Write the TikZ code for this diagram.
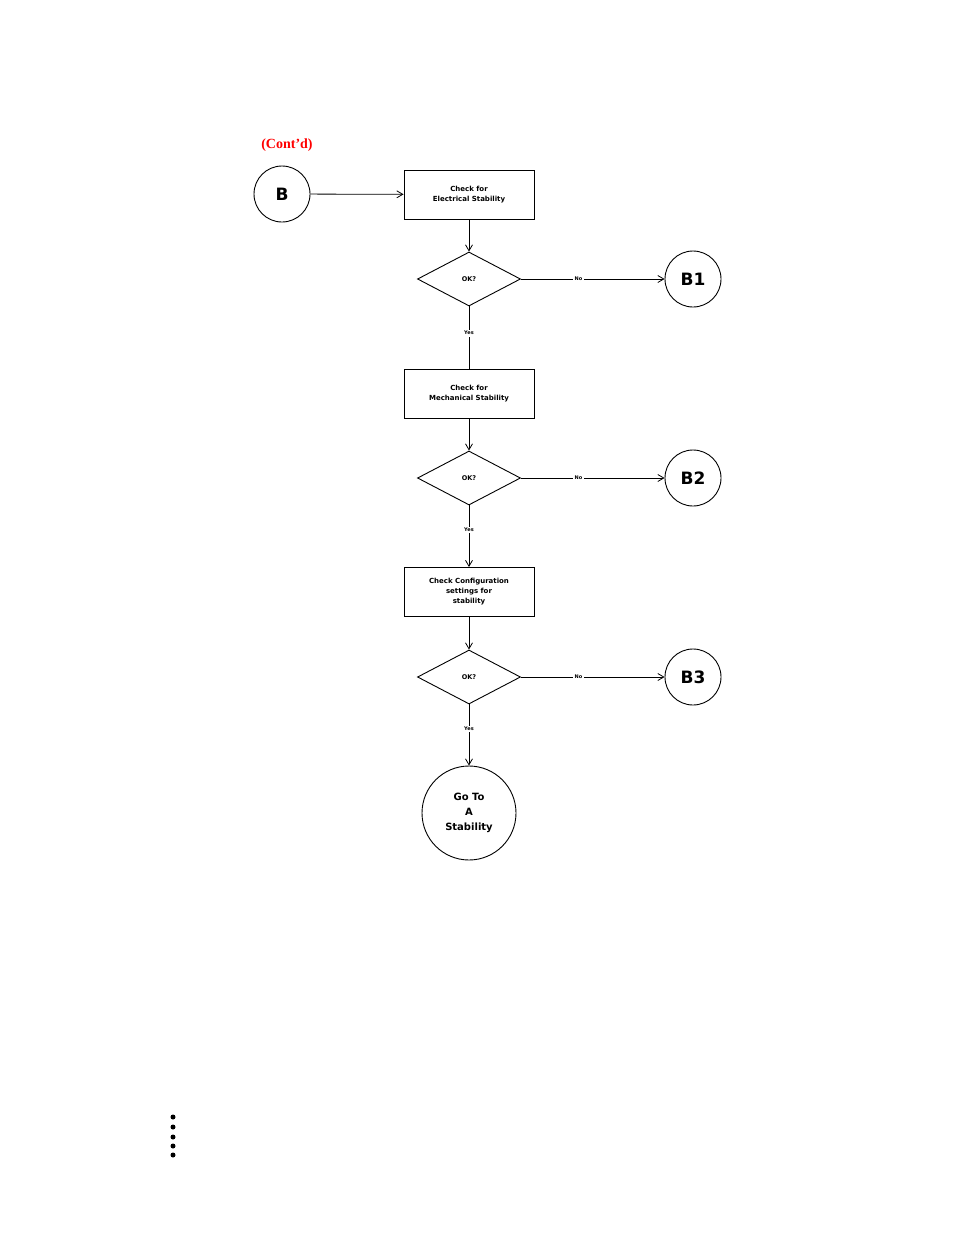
\documentclass[tikz,border=0pt]{standalone}
\usepackage{fontspec}
\setmainfont{DejaVu Sans}
\newfontfamily\serifb{Liberation Serif}
\usetikzlibrary{shapes.geometric,arrows.meta}
\begin{document}
\begin{tikzpicture}[x=1pt,y=-1pt,
  procbox/.style={draw,line width=0.9pt,minimum width=130pt,minimum height=49pt,align=center,font=\bfseries\fontsize{7}{10}\selectfont},
  decis/.style={draw,diamond,line width=0.9pt,minimum width=103pt,minimum height=54pt,aspect=1.9,inner sep=0pt,font=\bfseries\fontsize{6.5}{8}\selectfont},
  conn/.style={draw,circle,line width=0.9pt,minimum size=56pt,inner sep=0pt,font=\bfseries\fontsize{17}{20}\selectfont},
  flow/.style={line width=0.8pt,-{Straight Barb[length=6pt,width=7pt]}},
  plain/.style={line width=0.8pt},
  lab/.style={fill=white,inner sep=1.5pt,font=\bfseries\fontsize{5}{6}\selectfont}]
\useasboundingbox (0,0) rectangle (954,1235);
\node (cont) at (287,145) {\serifb\bfseries\color{red}\fontsize{14}{16}\selectfont (Cont’d)};
\node[conn] (B) at (282,194) {B};
\node[procbox] (p1) at (469,194.5) {Check for\\Electrical Stability};
\node[decis] (d1) at (469,279) {OK?};
\node[conn] (B1) at (693,279) {B1};
\node[procbox] (p2) at (469,393.5) {Check for\\Mechanical Stability};
\node[decis] (d2) at (469,478) {OK?};
\node[conn] (B2) at (693,478) {B2};
\node[procbox,font=\bfseries\fontsize{7}{10}\selectfont] (p3) at (469,592) {Check Configuration\\settings for\\stability};
\node[decis] (d3) at (469,677) {OK?};
\node[conn] (B3) at (693,677) {B3};
\node[draw,circle,line width=0.9pt,minimum size=94pt,inner sep=0pt,align=center,font=\bfseries\fontsize{10}{15}\selectfont] (go) at (469,813) {Go To\\A\\Stability};
\draw[flow] (B) -- (p1);
\draw[flow] (p1) -- (d1);
\draw[flow] (d1) -- node[lab,pos=0.4]{No} (B1);
\draw[plain] (d1) -- node[lab,pos=0.43]{Yes} (p2);
\draw[flow] (p2) -- (d2);
\draw[flow] (d2) -- node[lab,pos=0.4]{No} (B2);
\draw[flow] (d2) -- node[lab,pos=0.4]{Yes} (p3);
\draw[flow] (p3) -- (d3);
\draw[flow] (d3) -- node[lab,pos=0.4]{No} (B3);
\draw[flow] (d3) -- node[lab,pos=0.4]{Yes} (go);
\foreach \i/\yy in {1/1117,2/1127,3/1137,4/1146,5/1155}
  \fill (173,\yy) circle (2.5pt) coordinate (dot\i);
\end{tikzpicture}
\end{document}
